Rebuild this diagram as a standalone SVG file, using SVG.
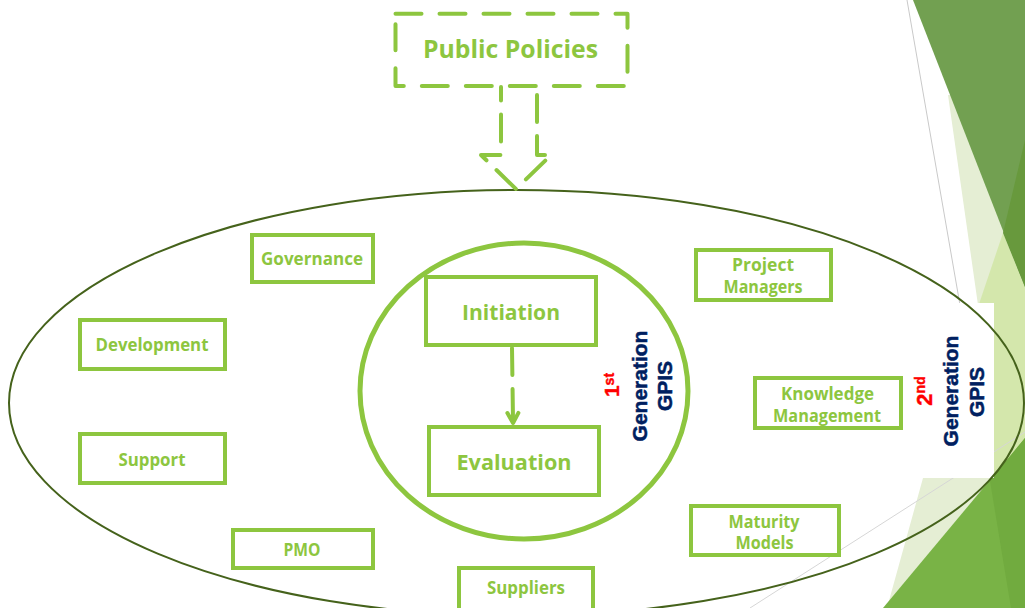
<svg xmlns="http://www.w3.org/2000/svg" width="1025" height="608" viewBox="0 0 1025 608">
<style>
.box{fill:#ffffff;stroke:#8DC63F;stroke-width:4}
.lbl{font-family:"Open Sans","Noto Sans","DejaVu Sans",sans-serif;font-weight:bold;fill:#8DC63F;text-anchor:middle}
.s17{font-size:17px}
.s22{font-size:22px}
.dash{fill:none;stroke:#8DC63F;stroke-width:4;stroke-linecap:round;stroke-linejoin:round}
.gen{font-family:"Liberation Sans",Arial,sans-serif;font-weight:bold;font-size:21px;fill:#002060;stroke:#002060;stroke-width:0.5;text-anchor:middle}
.ord{font-family:"Liberation Sans",Arial,sans-serif;font-weight:bold;fill:#FF0000;stroke:#FF0000;stroke-width:0.4;text-anchor:middle}
</style>
<defs>
<marker id="arrowV" markerUnits="userSpaceOnUse" viewBox="-14 -9 18 18" markerWidth="18" markerHeight="18" refX="-3" refY="0" orient="auto" overflow="visible">
<path d="M-10,-5.5 L0,0 L-10,5.5" fill="none" stroke="#8DC63F" stroke-width="4" stroke-linejoin="round" stroke-linecap="round"/>
</marker>
</defs>
<rect x="0" y="0" width="1025" height="608" fill="#ffffff"/>
<g id="background-decoration">
<polygon points="948,95 978,305 960,400 923,478 887,608 1025,608 1025,95" fill="#E5EED4"/>
<polygon points="1003,233 1025,287 1025,520 994,478 978,307" fill="#D4E7AC"/>
<polygon points="913,0 1025,0 1025,287" fill="#72A051"/>
<polygon points="1025,140 1003,233 1025,287" fill="#68993D"/>
<line x1="907" y1="0" x2="960" y2="305" stroke="#C9C9C9" stroke-width="1"/>
<line x1="750" y1="608" x2="1025" y2="432" stroke="#D6D6D6" stroke-width="1"/>
<polygon points="883,608 1025,438 1025,608" fill="#79B346"/>
<polygon points="990,481 1025,438 1025,608 1011,608" fill="#71AB3F"/>
<rect x="905" y="303" width="89" height="175" fill="#ffffff"/>
</g>
<g id="outer-ellipse">
<ellipse cx="516.5" cy="403" rx="507.5" ry="213" fill="none" stroke="#45621B" stroke-width="2"/>
</g>
<g id="inner-circle">
<ellipse cx="524" cy="391" rx="164" ry="148" fill="none" stroke="#8DC63F" stroke-width="5"/>
</g>
<g id="node-public-policies">
<rect x="395.5" y="13.7" width="232" height="72.3" class="dash" stroke-dasharray="26 18"/>
<text x="510.5" y="58" class="lbl" font-size="25" textLength="175" lengthAdjust="spacingAndGlyphs">Public Policies</text>
</g>
<g id="node-governance">
<rect x="252" y="235" width="121" height="47" class="box"/>
<text x="312" y="265" class="lbl s17" textLength="102" lengthAdjust="spacingAndGlyphs">Governance</text>
</g>
<g id="node-development">
<rect x="80" y="320" width="145" height="49" class="box"/>
<text x="152" y="351" class="lbl s17" textLength="113" lengthAdjust="spacingAndGlyphs">Development</text>
</g>
<g id="node-support">
<rect x="80" y="434" width="145" height="49" class="box"/>
<text x="152" y="466" class="lbl s17" textLength="67" lengthAdjust="spacingAndGlyphs">Support</text>
</g>
<g id="node-pmo">
<rect x="233" y="530" width="140" height="38" class="box"/>
<text x="302" y="556" class="lbl s17" textLength="37" lengthAdjust="spacingAndGlyphs">PMO</text>
</g>
<g id="node-suppliers">
<rect x="459" y="568" width="134" height="50" class="box"/>
<text x="526" y="594" class="lbl s17" textLength="78" lengthAdjust="spacingAndGlyphs">Suppliers</text>
</g>
<g id="node-initiation">
<rect x="426" y="277" width="170" height="68" class="box"/>
<text x="511" y="320" class="lbl s22" textLength="98" lengthAdjust="spacingAndGlyphs">Initiation</text>
</g>
<g id="node-evaluation">
<rect x="429" y="427" width="170" height="68" class="box"/>
<text x="514" y="470" class="lbl s22" textLength="115" lengthAdjust="spacingAndGlyphs">Evaluation</text>
</g>
<g id="node-project-managers">
<rect x="696" y="250" width="135" height="50" class="box"/>
<text x="763" y="271" class="lbl s17" textLength="62" lengthAdjust="spacingAndGlyphs">Project</text>
<text x="763" y="293" class="lbl s17" textLength="79" lengthAdjust="spacingAndGlyphs">Managers</text>
</g>
<g id="node-knowledge-management">
<rect x="755" y="378" width="146" height="50" class="box"/>
<text x="827.5" y="400" class="lbl s17" textLength="93" lengthAdjust="spacingAndGlyphs">Knowledge</text>
<text x="827" y="421.7" class="lbl s17" textLength="108" lengthAdjust="spacingAndGlyphs">Management</text>
</g>
<g id="node-maturity-models">
<rect x="691" y="506" width="148" height="49" class="box"/>
<text x="764" y="527.7" class="lbl s17" textLength="71" lengthAdjust="spacingAndGlyphs">Maturity</text>
<text x="764.5" y="549.3" class="lbl s17" textLength="58" lengthAdjust="spacingAndGlyphs">Models</text>
</g>
<g id="connectors">
<path d="M501,87 V155 H481 L516,189 L551,155 H537 V87" class="dash" stroke-dasharray="27 14" stroke-dashoffset="13.4"/>
<path d="M512,348 L513,420" class="dash" stroke-dasharray="27 14 40 0" marker-end="url(#arrowV)"/>
</g>
<g id="label-1st-generation">
<text class="ord" font-size="21" transform="translate(619,385) rotate(-90)">1<tspan font-size="14" dy="-5">st</tspan></text>
<text class="gen" transform="translate(647,386) rotate(-90)">Generation</text>
<text class="gen" transform="translate(672,386) rotate(-90)">GPIS</text>
</g>
<g id="label-2nd-generation">
<text class="ord" font-size="22" transform="translate(932,391) rotate(-90)">2<tspan font-size="14" dy="-7">nd</tspan></text>
<text class="gen" transform="translate(958,391) rotate(-90)">Generation</text>
<text class="gen" transform="translate(984,392) rotate(-90)">GPIS</text>
</g>
</svg>
